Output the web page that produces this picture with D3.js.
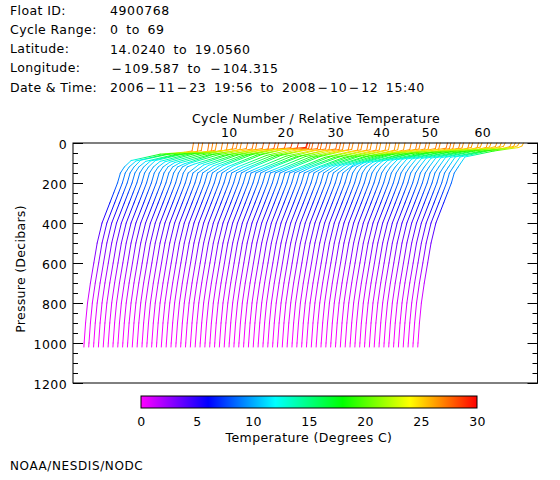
<!DOCTYPE html>
<html><head><meta charset="utf-8">
<script src="https://cdn.jsdelivr.net/npm/d3@7"></script>
<style>body{margin:0;background:#fff} svg text{font-family:"DejaVu Sans",sans-serif;fill:#000}</style>
</head><body><svg id="c" width="560" height="480"></svg>
<script>
// ---------- header ----------
const headerLabels = ["Float ID:", "Cycle Range:", "Latitude:", "Longitude:", "Date & Time:"];
const headerValues = ["4900768", "0 to 69", "14.0240 to 19.0560", "\u2212109.587 to \u2212104.315", "2006\u221211\u221223 19:56 to 2008\u221210\u221212 15:40"];

// ---------- per-cycle upper-ocean readings (cycle 0..69) ----------
// surface temperature (deg C)
const sst = [26.9,27.0,26.8,27.1,26.9,26.7,26.9,27.0, 27.2,27.0,26.8,27.1,27.3,27.0,27.4,27.6,
             27.8,27.5,28.0,28.3,28.6,29.4,28.5,28.0, 27.6,27.8,27.4,27.5,27.2,27.6,27.3,27.0,
             27.2,26.9,27.1,26.8,27.0,26.7,26.9,26.6, 26.8,26.5,26.7,26.4,26.6,26.9,27.1,26.8,
             27.0,26.7,27.2,26.9,27.4,27.1,26.8,27.0, 26.7,26.9,26.6,26.8,26.5,26.7,26.4,26.6,
             26.5,26.3,26.6,26.4,26.2,26.1];
// mixed layer depth (dbar)
const mld = [40,42,38,44,40,36,38,35, 30,28,32,28,30,33,28,30, 28,30,26,24,26,22,26,28,
             30,28,32,30,34,30,32,34, 34,32,36,34,36,34,36,35, 36,34,36,34,35,33,32,30,
             30,31,28,30,26,28,29,26, 25,26,22,24,20,22,20,18, 18,16,18,16,14,15];
// depth of 25 C isotherm (dbar)
const d25 = [46,47,44,49,46,42,44,42, 38,36,40,36,38,41,36,38, 36,38,34,32,34,30,34,36,
             38,36,40,38,42,38,40,42, 42,40,44,42,44,42,44,43, 44,42,44,42,43,41,40,38,
             38,39,36,38,34,36,37,34, 33,34,30,32,28,30,28,26, 26,24,26,24,22,23];
// depth of 20 C isotherm (dbar)
const d20 = [56,57,55,58,56,54,55,54, 56,58,60,57,59,62,60,62, 60,62,60,58,60,58,62,64,
             64,62,66,68,70,66,68,70, 70,68,72,70,72,70,72,70, 70,68,70,66,66,64,62,60,
             58,60,56,56,52,54,54,50, 48,50,46,48,44,46,44,42, 42,40,42,40,38,40];
// depth of 14 C isotherm (dbar)
const d14 = [88,90,86,92,90,88,92,94, 96,98,100,104,102,106,108,110, 112,114,116,114,118,116,120,122,
             124,122,126,128,126,124,128,130, 128,126,130,128,126,124,126,122, 120,118,116,114,112,110,108,104,
             100,98,96,94,90,88,86,84, 82,80,80,78,78,76,76,74, 74,72,72,70,70,70];
// common deep profile
const deepP = [120, 150, 200, 250, 300, 400, 500, 600, 700, 800, 900, 1000, 1020];
const deepT = [12.6, 11.8, 11.2, 10.4, 9.6, 8.0, 7.0, 6.3, 5.6, 5.0, 4.6, 4.3, 4.25];

// ---------- axes / legend values ----------
const pressureMajor = [0, 200, 400, 600, 800, 1000, 1200];
const pressureMinorStep = 50;
const topTickCycles = [10, 20, 30, 40, 50, 60];
const topTickRel = [34.2, 45.9, 56.2, 65.7, 75.7, 86.6];   // relative-temperature position of each label
const cbarTicks = [0, 5, 10, 15, 20, 25, 30];
const colorStops = [0, 6, 12, 18, 24, 30];
const colorHex = ["#ff00ff", "#0000ff", "#00ffff", "#00ff00", "#ffff00", "#ff0000"];

// ---------- drawing ----------
const svg = d3.select("#c");
const plot = {l: 73, r: 537.5, t: 143, b: 383};
const x = d3.scaleLinear().domain([2, 98]).range([plot.l, plot.r]);
const y = d3.scaleLinear().domain([0, 1200]).range([plot.t, plot.b]);
const barColor = d3.scaleLinear().domain(colorStops).range(colorHex).interpolate(d3.interpolateRgb).clamp(true);

// header
const hdr = svg.append("g").attr("font-size", 12.5).attr("letter-spacing", 0.4);
headerLabels.forEach((t, i) => {
  hdr.append("text").attr("x", 10).attr("y", 10 + i * 19.3).attr("dominant-baseline", "central").text(t);
  const v = hdr.append("text").attr("x", 110).attr("y", 10 + i * 19.3).attr("dominant-baseline", "central")
    .attr("word-spacing", 3).attr("letter-spacing", 0.6);
  headerValues[i].split("\u2212").forEach((part, j) => {
    if (j > 0) v.append("tspan").attr("dx", 1.5).attr("letter-spacing", 2).text("\u2212");
    if (part) v.append("tspan").text(part);
  });
});

// profiles
const profiles = sst.map((s, c) => {
  const pts = [[0, s], [mld[c], s - 0.3], [d25[c], 25], [d20[c], 20], [d14[c], 14]];
  deepP.forEach((p, i) => { if (p > d14[c] + 12) pts.push([p, deepT[i]]); });
  return pts;
});
const allT = profiles.flat().map(d => d[1]);
const lineT = d3.scaleLinear().domain(d3.extent(allT)).range([0, 30]);
const lineColor = t => barColor(lineT(t));

const defs = svg.append("defs");
const lines = svg.append("g").attr("fill", "none").attr("stroke-width", 1);
let gid = 0;
profiles.forEach((pts, c) => {
  for (let i = 0; i < pts.length - 1; i++) {
    const [p0, t0] = pts[i], [p1, t1] = pts[i + 1];
    const x0 = x(c + t0), y0 = y(p0), x1 = x(c + t1), y1 = y(p1);
    const id = "g" + (gid++);
    const lg = defs.append("linearGradient").attr("id", id).attr("gradientUnits", "userSpaceOnUse")
      .attr("x1", x0).attr("y1", y0).attr("x2", x1).attr("y2", y1);
    [0, 0.5, 1].forEach(o => lg.append("stop").attr("offset", o).attr("stop-color", lineColor(t0 + (t1 - t0) * o)));
    lines.append("line").attr("x1", x0).attr("y1", y0).attr("x2", x1).attr("y2", y1)
      .attr("stroke", `url(#${id})`).attr("stroke-linecap", "round");
  }
});

// frame
svg.append("rect").attr("x", plot.l).attr("y", plot.t).attr("width", plot.r - plot.l).attr("height", plot.b - plot.t)
  .attr("fill", "none").attr("stroke", "#000").attr("stroke-width", 1);

const minorVals = d3.range(0, 1200 + 1, pressureMinorStep);
function tickAxis(axisFn, xpos, vals, size) {
  const g = svg.append("g").attr("transform", `translate(${xpos},0)`)
    .call(axisFn(y).tickValues(vals).tickSize(size).tickFormat(""));
  g.select(".domain").remove();
  g.selectAll("line").attr("stroke", "#000");
}
tickAxis(d3.axisRight, plot.l, minorVals, 5);
tickAxis(d3.axisRight, plot.l, pressureMajor, 10);
tickAxis(d3.axisLeft, plot.r, minorVals, 5);
tickAxis(d3.axisLeft, plot.r, pressureMajor, 10);

const yl = svg.append("g").attr("transform", `translate(${plot.l},0)`)
  .call(d3.axisLeft(y).tickValues(pressureMajor).tickSize(0).tickPadding(6).tickFormat(d3.format("d")));
yl.select(".domain").remove();
yl.selectAll("text").attr("font-size", 12.5).attr("font-family", "DejaVu Sans").attr("letter-spacing", 0.4).attr("dy", "0.4em");

svg.append("text").attr("transform", `translate(20,${(plot.t + plot.b) / 2 + 6}) rotate(-90)`)
  .attr("text-anchor", "middle").attr("dominant-baseline", "central").attr("font-size", 12.5).attr("letter-spacing", 0.3)
  .text("Pressure (Decibars)");

// top axis
const topScale = d3.scaleLinear().domain(x.domain()).range(x.range());
const tg = svg.append("g").attr("transform", `translate(0,${plot.t})`)
  .call(d3.axisTop(topScale).tickValues(topTickRel).tickSize(0).tickPadding(0)
    .tickFormat((d, i) => topTickCycles[i]));
tg.select(".domain").remove();
tg.selectAll("text").attr("font-size", 12.5).attr("font-family", "DejaVu Sans").attr("letter-spacing", 0.4)
  .attr("y", -11).attr("dy", 0).attr("dominant-baseline", "central");
svg.append("text").attr("x", 316).attr("y", 118).attr("text-anchor", "middle").attr("dominant-baseline", "central")
  .attr("font-size", 12.5).attr("letter-spacing", 0.4).text("Cycle Number / Relative Temperature");

// colour bar
const cb = {l: 141, r: 477, t: 396, b: 408};
const cx = d3.scaleLinear().domain([0, 30]).range([cb.l, cb.r]);
const grad = defs.append("linearGradient").attr("id", "cbar").attr("x1", 0).attr("x2", 1).attr("y1", 0).attr("y2", 0);
colorStops.forEach((s, i) => grad.append("stop").attr("offset", (s - 0) / 30).attr("stop-color", colorHex[i]));
svg.append("rect").attr("x", cb.l).attr("y", cb.t).attr("width", cb.r - cb.l).attr("height", cb.b - cb.t)
  .attr("fill", "url(#cbar)").attr("stroke", "#000").attr("stroke-width", 1);
const cbg = svg.append("g").attr("transform", `translate(0,${cb.b})`)
  .call(d3.axisBottom(cx).tickValues(cbarTicks).tickSize(0).tickPadding(0));
cbg.select(".domain").remove();
cbg.selectAll("text").attr("font-size", 12.5).attr("font-family", "DejaVu Sans").attr("letter-spacing", 0.4)
  .attr("y", 13).attr("dy", 0).attr("dominant-baseline", "central");
svg.append("text").attr("x", 309).attr("y", 437).attr("text-anchor", "middle").attr("dominant-baseline", "central")
  .attr("font-size", 12.5).attr("letter-spacing", 0.4).text("Temperature (Degrees C)");

svg.append("text").attr("x", 10).attr("y", 466).attr("dominant-baseline", "central").attr("font-size", 12)
  .attr("letter-spacing", 0.6).text("NOAA/NESDIS/NODC");
</script></body></html>
